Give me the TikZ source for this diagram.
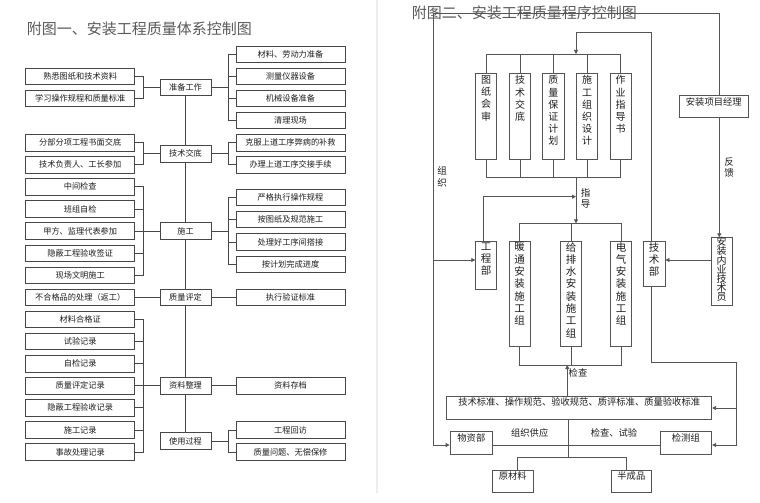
\documentclass[tikz,border=0pt]{standalone}
\usepackage{fontspec}
\setmainfont{Noto Sans CJK SC}
\usetikzlibrary{arrows.meta,calc}
\definecolor{lc}{RGB}{70,70,70}
\definecolor{rc}{RGB}{85,85,85}
\definecolor{tc}{RGB}{30,30,30}
\definecolor{ttl}{RGB}{90,90,90}
\newcommand\lftfont{\fontsize{8.2}{9.5}\selectfont}
\newcommand\rgtfont{\fontsize{9.3}{11}\selectfont}
\newcommand\ttlfont{\fontsize{15}{17}\selectfont}
\newcommand\vfa{\fontsize{10}{12.2}\selectfont}
\newcommand\vfb{\fontsize{10.5}{12.3}\selectfont}
\newcommand\vfc{\fontsize{10}{9.2}\selectfont}
\newcommand\topbox[4]{\parbox[c][#1][t]{#2}{\centering\lineskiplimit=-20pt\vspace*{#3}#4\par}}
\begin{document}
\begin{tikzpicture}[x=1pt,y=-1pt,
  lbox/.style={draw=lc,line width=0.8pt,inner sep=0pt,minimum width=109pt,minimum height=16.5pt,font=\lftfont,text=tc},
  cbox/.style={lbox,minimum width=51pt},
  lline/.style={draw=lc,line width=0.8pt},
  rbox/.style={draw=rc,line width=0.8pt,inner sep=0pt,text=tc},
  rline/.style={draw=rc,line width=0.8pt},
  arr/.style={rline,-{Triangle[length=4pt,width=4pt]}},
  lbl/.style={inner sep=0pt,text=tc,font=\rgtfont},
  vlbl/.style={inner sep=0pt,text=tc,align=center,font=\fontsize{9.5}{11}\selectfont}]
\useasboundingbox (0,0) rectangle (760,503);
\fill[white] (0,0) rectangle (760,503);
\fill[black!7] (376,0) rectangle (378.3,493);

% ---------------- left diagram ----------------
\node[anchor=west,inner sep=0pt,font=\ttlfont,text=ttl] (title1) at (26.7,29) {附图一、安装工程质量体系控制图};

\node[lbox] (a1) at (80.2,76.35) {熟悉图纸和技术资料};
\node[lbox] (a2) at (80.2,98.45) {学习操作规程和质量标准};
\node[lbox] (a3) at (80.2,142.65) {分部分项工程书面交底};
\node[lbox] (a4) at (80.2,164.75) {技术负责人、工长参加};
\node[lbox] (a5) at (80.2,186.85) {中间检查};
\node[lbox] (a6) at (80.2,208.95) {班组自检};
\node[lbox] (a7) at (80.2,231.05) {甲方、监理代表参加};
\node[lbox] (a8) at (80.2,253.15) {隐蔽工程验收签证};
\node[lbox] (a9) at (80.2,275.25) {现场文明施工};
\node[lbox] (a10) at (80.2,297.35) {不合格品的处理（返工）};
\node[lbox] (a11) at (80.2,319.45) {材料合格证};
\node[lbox] (a12) at (80.2,341.55) {试验记录};
\node[lbox] (a13) at (80.2,363.65) {自检记录};
\node[lbox] (a14) at (80.2,385.75) {质量评定记录};
\node[lbox] (a15) at (80.2,407.85) {隐蔽工程验收记录};
\node[lbox] (a16) at (80.2,429.95) {施工记录};
\node[lbox] (a17) at (80.2,452.05) {事故处理记录};

\node[cbox] (c1) at (185.5,87.3) {准备工作};
\node[cbox] (c2) at (185.5,153.7) {技术交底};
\node[cbox] (c3) at (185.5,231.05) {施工};
\node[cbox] (c4) at (185.5,297.35) {质量评定};
\node[cbox] (c5) at (185.5,385.75) {资料整理};
\node[cbox] (c6) at (185.5,441) {使用过程};

\node[lbox] (b1) at (290.5,54.25) {材料、劳动力准备};
\node[lbox] (b2) at (290.5,76.35) {测量仪器设备};
\node[lbox] (b3) at (290.5,98.45) {机械设备准备};
\node[lbox] (b4) at (290.5,120.55) {清理现场};
\node[lbox] (b5) at (290.5,142.65) {克服上道工序弊病的补救};
\node[lbox] (b6) at (290.5,164.75) {办理上道工序交接手续};
\node[lbox] (b7) at (290.5,197.3) {严格执行操作规程};
\node[lbox] (b8) at (290.5,219.6) {按图纸及规范施工};
\node[lbox] (b9) at (290.5,241.9) {处理好工序间搭接};
\node[lbox] (b10) at (290.5,264.2) {按计划完成进度};
\node[lbox] (b11) at (290.5,297.35) {执行验证标准};
\node[lbox] (b12) at (290.5,385.75) {资料存档};
\node[lbox] (b13) at (290.5,429.95) {工程回访};
\node[lbox] (b14) at (290.5,452.05) {质量问题、无偿保修};

\coordinate (bl) at (143,0);
\coordinate (br) at (228,0);

\foreach \n in {a1,a2} \draw[lline] (\n.east) -| (bl |- c1.west) -- (c1.west);
\foreach \n in {a3,a4} \draw[lline] (\n.east) -| (bl |- c2.west) -- (c2.west);
\foreach \n in {a5,a6,a7,a8,a9} \draw[lline] (\n.east) -| (bl |- c3.west) -- (c3.west);
\draw[lline] (a10.east) -- (c4.west);
\foreach \n in {a11,a12,a13,a14,a15,a16,a17} \draw[lline] (\n.east) -| (bl |- c5.west) -- (c5.west);

\foreach \n in {b1,b2,b3,b4} \draw[lline] (c1.east) -- (br |- c1.east) |- (\n.west);
\foreach \n in {b5,b6} \draw[lline] (c2.east) -- (br |- c2.east) |- (\n.west);
\foreach \n in {b7,b8,b9,b10} \draw[lline] (c3.east) -- (br |- c3.east) |- (\n.west);
\draw[lline] (c4.east) -- (b11.west);
\draw[lline] (c5.east) -- (b12.west);
\foreach \n in {b13,b14} \draw[lline] (c6.east) -- (br |- c6.east) |- (\n.west);

\draw[lline] (c1.south) -- (c2.north) (c2.south) -- (c3.north) (c3.south) -- (c4.north)
  (c4.south) -- (c5.north) (c5.south) -- (c6.north);

% ---------------- right diagram ----------------
\node[anchor=west,inner sep=0pt,font=\ttlfont,text=ttl] (title2) at (411.7,13) {附图二、安装工程质量程序控制图};

\node[rbox] (t1) at (486.2,116) {\topbox{86pt}{21pt}{2.5pt}{\vfa 图\\纸\\会\\审}};
\node[rbox] (t2) at (520,116) {\topbox{86pt}{21.4pt}{2.5pt}{\vfa 技\\术\\交\\底}};
\node[rbox] (t3) at (553.35,116) {\topbox{86pt}{21.3pt}{2.5pt}{\vfa 质\\量\\保\\证\\计\\划}};
\node[rbox] (t4) at (587,116) {\topbox{86pt}{20.6pt}{2.5pt}{\vfa 施\\工\\组\\织\\设\\计}};
\node[rbox] (t5) at (620.65,116) {\topbox{86pt}{21.3pt}{2.5pt}{\vfa 作\\业\\指\\导\\书}};

\node[rbox] (pm) at (713.8,106.15) {\topbox{22.3pt}{69pt}{2.5pt}{\rgtfont 安装项目经理}};

\node[rbox] (gcb) at (486.2,265.5) {\topbox{47.6pt}{21pt}{0.8pt}{\vfb 工\\程\\部}};
\node[rbox] (g1) at (519.65,293.85) {\topbox{104.3pt}{20.7pt}{0.5pt}{\vfb 暖\\通\\安\\装\\施\\工\\组}};
\node[rbox] (g2) at (571.2,293.85) {\topbox{104.3pt}{21pt}{0.5pt}{\vfb 给\\排\\水\\安\\装\\施\\工\\组}};
\node[rbox] (g3) at (621,293.85) {\topbox{104.3pt}{20.6pt}{0.5pt}{\vfb 电\\气\\安\\装\\施\\工\\组}};
\node[rbox] (jsb) at (654,263.85) {\topbox{44.3pt}{22pt}{0.8pt}{\vfb 技\\术\\部}};
\node[rbox] (nyjs) at (721.65,271.7) {\topbox{68pt}{21.3pt}{-0.5pt}{\vfc 安\\装\\内\\业\\技\\术\\员}};

\node[rbox] (std) at (579.2,408) {\topbox{22.6pt}{265pt}{1.4pt}{\rgtfont 技术标准、操作规范、验收规范、质评标准、质量验收标准}};
\node[rbox] (wz) at (471.35,442.65) {\topbox{23.3pt}{42.7pt}{2.5pt}{\rgtfont 物资部}};
\node[rbox] (jcz) at (685.85,442.65) {\topbox{23.3pt}{51.7pt}{2.5pt}{\rgtfont 检测组}};
\node[rbox] (ycl) at (512.8,481.35) {\topbox{22.7pt}{41pt}{1.8pt}{\rgtfont 原材料}};
\node[rbox] (bcp) at (631.35,481.35) {\topbox{22.7pt}{40.7pt}{1.8pt}{\rgtfont 半成品}};

\node[vlbl,font=\fontsize{9.5}{12.5}\selectfont] (lzz) at (442,177) {组\\织};
\node[vlbl] (lfk) at (729,167.5) {反\\馈};
\node[vlbl] (lzd) at (585.7,198.8) {指\\导};
\node[lbl] (ljc) at (578,373) {检查};
\node[lbl] (lgy) at (529.7,433.3) {组织供应};
\node[lbl] (lsy) at (614,433.3) {检查、试验};

\coordinate (tl) at (433,13.3);
\coordinate (tr) at (719.3,13.3);
\coordinate (ya) at (0,260);
\coordinate (yb) at (0,445);
\coordinate (gx) at (483.3,196.7);
\coordinate (zd) at (576,196.7);
\coordinate (jx) at (651.7,32.7);
\coordinate (ja) at (576,32.7);
\coordinate (jb) at (576,54);
\coordinate (yt) at (0,54);
\coordinate (yu) at (0,177.3);
\coordinate (yv) at (0,223.3);
\coordinate (yl) at (0,365);
\coordinate (rx) at (736,362);
\coordinate (ck) at (567.3,365);
\coordinate (sb) at (568.3,457.3);
\coordinate (sl) at (517.3,457.3);
\coordinate (sr) at (626.7,457.3);

\draw[arr] (pm.north -| tr) -- (tr) -- (tl) |- (wz.west |- yb);
\draw[arr] (tl |- ya) -- (gcb.west |- ya);
\draw[arr] (gcb.north -| gx) -- (gx) -- (zd);
\draw[arr] (jsb.north -| jx) -- (jx) -- (ja) -- (jb);

\draw[rline] (t1.north) -- (t1.north |- yt) -- (t5.north |- yt) -- (t5.north);
\foreach \n in {t2,t3,t4} \draw[rline] (\n.north) -- (\n.north |- yt);
\draw[rline] (t1.south) -- (t1.south |- yu) -- (t5.south |- yu) -- (t5.south);
\foreach \n in {t2,t3,t4} \draw[rline] (\n.south) -- (\n.south |- yu);
\draw[arr] (jb |- yu) -- (jb |- yv);

\draw[rline] (g1.north) -- (g1.north |- yv) -- (g3.north |- yv) -- (g3.north);
\draw[rline] (g2.north) -- (g2.north |- yv);

\draw[arr] (pm.south -| tr) -- (nyjs.north -| tr);
\draw[arr] (nyjs.west |- ya) -- (jsb.east |- ya);

\draw[arr] (jsb.south -| jx) -- (jx |- rx) -- (rx) |- (jcz.east |- yb);
\draw[arr] (rx |- std.east) -- (std.east);

\draw[rline] (g1.south) -- (g1.south |- yl) -- (g3.south |- yl) -- (g3.south);
\draw[rline] (g2.south) -- (g2.south |- yl);
\draw[arr] (std.north -| ck) -- (ck);

\draw[rline] (wz.east |- yb) -- (jcz.west |- yb);
\draw[rline] (std.south -| sb) -- (sb);
\draw[rline] (ycl.north -| sl) -- (sl) -- (sr) -- (bcp.north -| sr);
\end{tikzpicture}
\end{document}
